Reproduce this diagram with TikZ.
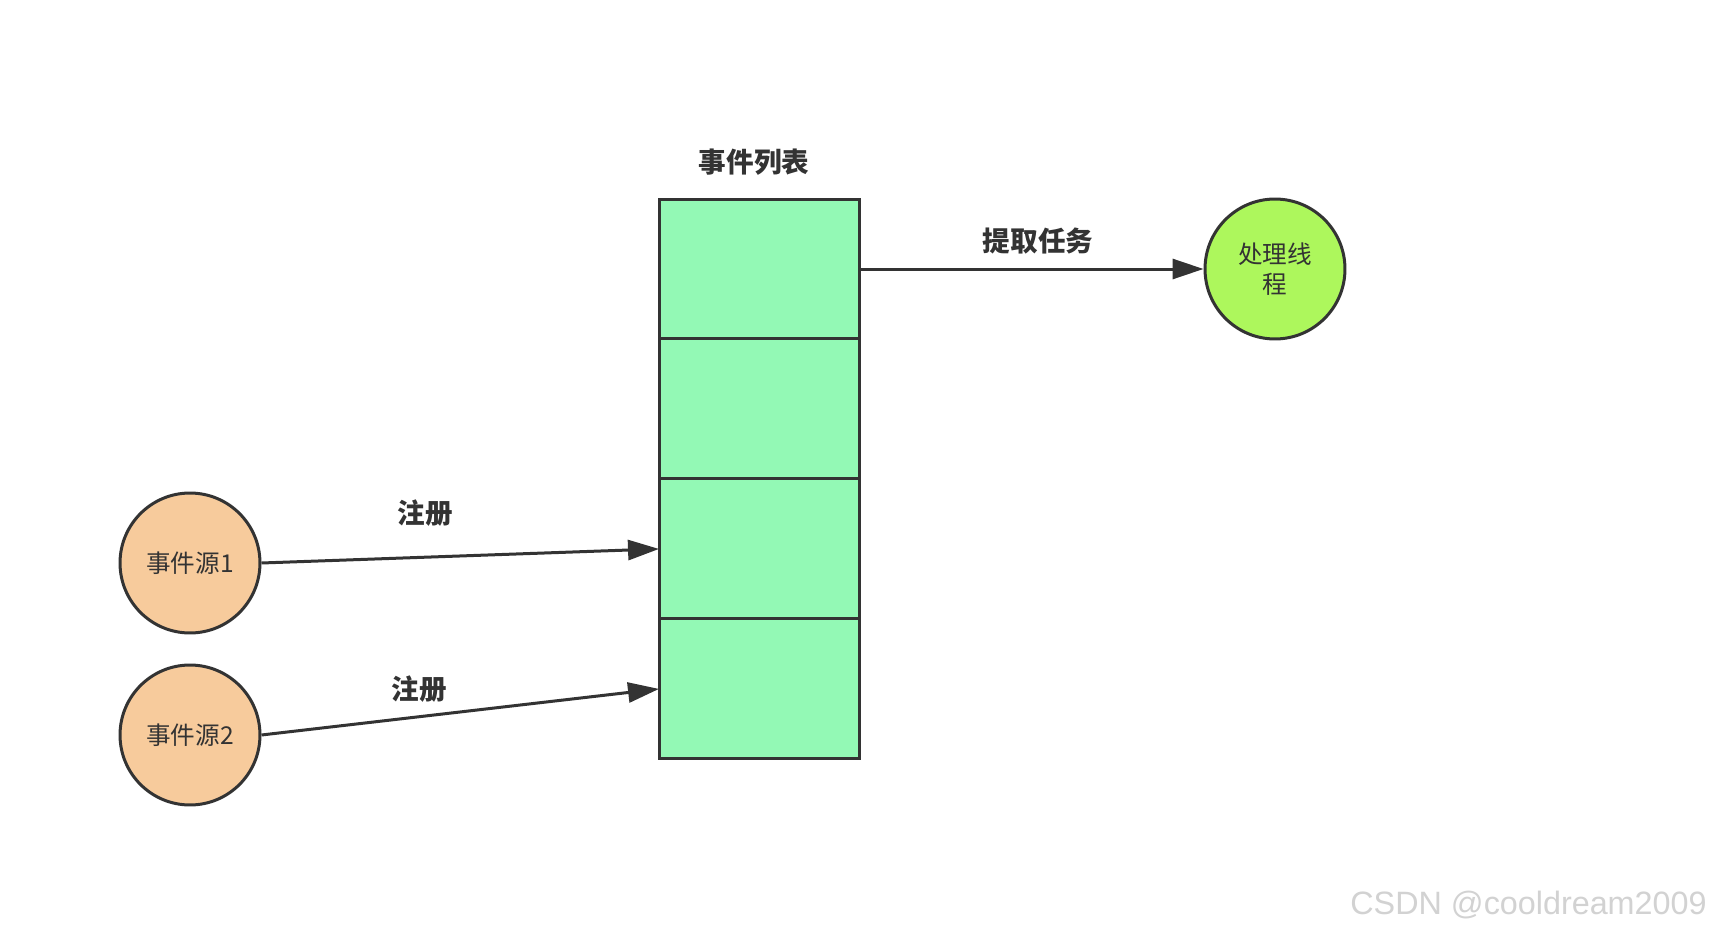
\documentclass[tikz,border=0pt]{standalone}
\usepackage{fontspec}
\setmainfont{Liberation Sans}
\newfontfamily\cjk{Noto Sans CJK SC}
\usetikzlibrary{arrows.meta}
\usetikzlibrary{positioning}
\definecolor{cellgreen}{HTML}{93F9B5}
\definecolor{srcorange}{HTML}{F7CB9C}
\definecolor{workgreen}{HTML}{ADF75C}
\definecolor{edgegray}{HTML}{333333}

\begin{document}
\begin{tikzpicture}[x=0.02cm,y=-0.02cm,
	cell/.style={draw=edgegray,fill=cellgreen,line width=0.06cm,minimum width=4.02cm,minimum height=2.8cm,inner sep=0pt,outer sep=0pt},
	source/.style={circle,draw=edgegray,fill=srcorange,line width=0.06cm,minimum size=2.8cm,inner sep=0pt,font=\cjk\fontsize{14pt}{16pt}\selectfont,text=edgegray},
	worker/.style={circle,draw=edgegray,fill=workgreen,line width=0.06cm,minimum size=2.8cm,inner sep=0pt,align=center,font=\cjk\fontsize{14pt}{17pt}\selectfont,text=edgegray},
	label/.style={font=\cjk\bfseries\fontsize{15.7pt}{18pt}\selectfont,text=edgegray},
	flow/.style={draw=edgegray,line width=0.06cm,-{Triangle[length=0.62cm,width=0.4cm]}}]
	\useasboundingbox[fill=white] (0,0) rectangle (1712,936);
	% event list
	\node[cell] (cell1) at (759.5,269) {};
	\node[cell,below=0pt of cell1] (cell2) {};
	\node[cell,below=0pt of cell2] (cell3) {};
	\node[cell,below=0pt of cell3] (cell4) {};
	\node[label] (listname) at (754,162) {事件列表};
	% sources and worker
	\node[source] (src1) at (190,563) {事件源1};
	\node[source] (src2) at (190,735) {事件源2};
	\node[worker] (thread) at (1275,269) {处理线\\程};
	% arrows
	\draw[flow] (src1.east) -- (cell3.west);
	\draw[flow] (src2.east) -- (cell4.west);
	\draw[flow] (cell1.east) -- (thread.west);
	\node[label] (reg1) at (425,513) {注册};
	\node[label] (reg2) at (419,689) {注册};
	\node[label] (fetch) at (1038,241) {提取任务};
	\node[anchor=east,inner sep=0pt,text=gray!35,font=\fontsize{18.4pt}{22pt}\selectfont] (mark) at (1707,905) {CSDN @cooldream2009};
\end{tikzpicture}
\end{document}
